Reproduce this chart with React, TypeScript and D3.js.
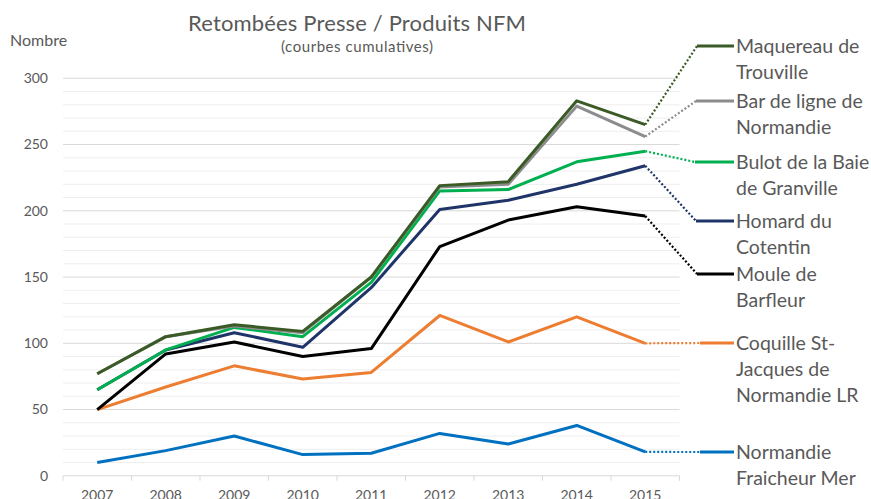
import React from "react";
import * as d3 from "d3";

const years = ["2007", "2008", "2009", "2010", "2011", "2012", "2013", "2014", "2015"];
const yTicks = [0, 50, 100, 150, 200, 250, 300];

const normandieFraicheur = [10, 19, 30, 16, 17, 32, 24, 38, 18];
const coquille = [50, 67, 83, 73, 78, 121, 101, 120, 100];
const moule = [50, 92, 101, 90, 96, 173, 193, 203, 196];
const homard = [65, 95, 108, 97, 142, 201, 208, 220, 234];
const bulot = [65, 95, 112, 105, 146, 215, 216, 237, 245];
const barLigne = [77, 105, 113, 108, 150, 218, 220, 279, 256];
const maquereau = [77, 105, 114, 109, 150, 219, 222, 283, 265];

const seriesNames = [
  ["Normandie", "Fraicheur Mer"],
  ["Coquille St-", "Jacques de", "Normandie LR"],
  ["Moule de", "Barfleur"],
  ["Homard du", "Cotentin"],
  ["Bulot de la Baie", "de Granville"],
  ["Bar de ligne de", "Normandie"],
  ["Maquereau de", "Trouville"],
];
const seriesValues = [normandieFraicheur, coquille, moule, homard, bulot, barLigne, maquereau];
const seriesColors = ["#0070c0", "#ed7d31", "#000000", "#1f3468", "#00b050", "#8c8c8c", "#3a5a26"];
// legend label anchor (layout)
const legendY = [452, 343, 274, 221, 162, 101, 46];
const legendX0 = [700, 700, 697, 696, 695, 696, 697];

const W = 871;
const H = 499;
const FONT = "Lato, 'Open Sans', sans-serif";
const TEXT = "#595959";

export default function App() {
  const x = d3.scalePoint<string>().domain(years).range([63, 679.5]).padding(0.5);
  const y = d3.scaleLinear().domain([0, 300]).range([475.8, 78.3]);
  const step = x.step();
  const line = d3
    .line<number>()
    .x((_, i) => x(years[i]) as number)
    .y((d) => y(d));

  const minor = d3.range(10, 301, 10).filter((v) => v % 50 !== 0);
  const boundaries = d3.range(0, years.length + 1).map((i) => 63 + i * step);
  const lastX = x(years[years.length - 1]) as number;

  return (
    <svg
      width={W}
      height={H}
      style={{ position: "absolute", left: 0, top: 0, background: "#fff" }}
      fontFamily={FONT}
    >
      {minor.map((v) => (
        <line key={"m" + v} x1={63} x2={679.5} y1={y(v)} y2={y(v)} stroke="#eeeeee" strokeWidth={1} />
      ))}
      {yTicks.filter((v) => v > 0).map((v) => (
        <line key={"M" + v} x1={63} x2={679.5} y1={y(v)} y2={y(v)} stroke="#d9d9d9" strokeWidth={1} />
      ))}
      <line x1={63} x2={679.5} y1={y(0)} y2={y(0)} stroke="#d9d9d9" strokeWidth={1} />
      {boundaries.map((bx, i) => (
        <line key={"t" + i} x1={bx} x2={bx} y1={y(0)} y2={y(0) + 5} stroke="#d9d9d9" strokeWidth={1} />
      ))}
      {yTicks.map((v) => (
        <text key={"yl" + v} x={48} y={y(v)} dy="0.35em" textAnchor="end" fontSize={14} fill={TEXT}>
          {v}
        </text>
      ))}
      {years.map((yr) => (
        <text key={"xl" + yr} x={x(yr)} y={500} textAnchor="middle" fontSize={14} fill={TEXT}>
          {yr}
        </text>
      ))}
      <text x={10} y={46} fontSize={16} fill={TEXT}>
        Nombre
      </text>
      <text x={188} y={30.5} fontSize={22} fill={TEXT} textLength={338} lengthAdjust="spacing">
        Retombées Presse / Produits NFM
      </text>
      <text x={281} y={52} fontSize={15} fill={TEXT} textLength={152} lengthAdjust="spacing">
        (courbes cumulatives)
      </text>

      {seriesValues.map((vals, k) => (
        <path
          key={"s" + k}
          d={line(vals) as string}
          fill="none"
          stroke={seriesColors[k]}
          strokeWidth={3}
          strokeLinejoin="round"
        />
      ))}
      {seriesValues.map((vals, k) => (
        <g key={"lg" + k}>
          <line
            x1={lastX}
            y1={y(vals[vals.length - 1])}
            x2={legendX0[k]}
            y2={legendY[k]}
            stroke={seriesColors[k]}
            strokeWidth={2.2}
            strokeDasharray="2 2"
          />
          <line x1={legendX0[k]} x2={734} y1={legendY[k]} y2={legendY[k]} stroke={seriesColors[k]} strokeWidth={3} />
          {seriesNames[k].map((t, j) => (
            <text key={j} x={736} y={legendY[k] + j * 26} dy="0.35em" fontSize={19.5} fill={TEXT}>
              {t}
            </text>
          ))}
        </g>
      ))}
    </svg>
  );
}
